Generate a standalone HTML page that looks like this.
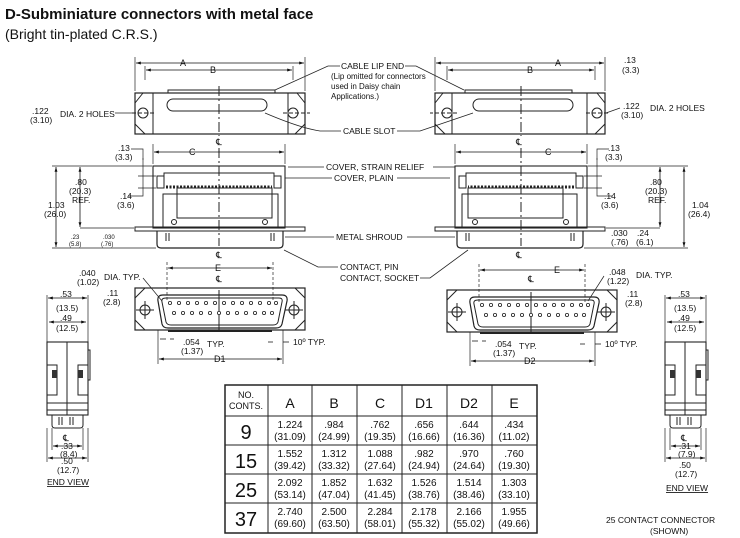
<!DOCTYPE html>
<html><head><meta charset="utf-8"><style>
body{margin:0;background:#fff;width:740px;height:538px;overflow:hidden}
svg{display:block}
text{font-family:"Liberation Sans",sans-serif;fill:#111}
.d{font-size:8.5px}
.l{font-size:9px}
</style></head><body>
<svg width="740" height="538" viewBox="0 0 740 538" xmlns="http://www.w3.org/2000/svg">
<defs>
<marker id="a" viewBox="0 0 10 10" refX="10" refY="5" markerWidth="6" markerHeight="6" orient="auto-start-reverse"><path d="M0,2L10,5L0,8z" fill="#111"/></marker>
<g id="top">
 <rect x="135" y="93" width="170" height="41" fill="none" stroke="#222" stroke-width="1.2"/>
 <line x1="153" y1="93" x2="153" y2="134" stroke="#222"/>
 <line x1="288" y1="93" x2="288" y2="134" stroke="#222"/>
 <path d="M135,103L143,93M135,124L145,134M305,103L297,93M305,124L295,134" stroke="#222"/>
 <rect x="167" y="99" width="100" height="12" rx="6" fill="none" stroke="#222"/>
 <circle cx="143" cy="113" r="5" fill="none" stroke="#222"/>
 <circle cx="293" cy="113" r="5" fill="none" stroke="#222"/>
 <line x1="132" y1="113" x2="155" y2="113" stroke="#222" stroke-dasharray="4,2"/>
 <line x1="283" y1="113" x2="310" y2="113" stroke="#222" stroke-dasharray="4,2"/>
 <rect x="168" y="90" width="107" height="3" fill="none" stroke="#222"/>
 <line x1="219" y1="86" x2="219" y2="136" stroke="#222" stroke-dasharray="10,3,2,3"/>
 <line x1="135" y1="57" x2="135" y2="91" stroke="#222" stroke-width=".7"/>
 <line x1="305" y1="57" x2="305" y2="91" stroke="#222" stroke-width=".7"/>
 <line x1="145" y1="66" x2="145" y2="80" stroke="#222" stroke-width=".7"/>
 <line x1="293" y1="66" x2="293" y2="80" stroke="#222" stroke-width=".7"/>
 <line x1="136" y1="63" x2="304" y2="63" stroke="#111" stroke-width=".8" marker-start="url(#a)" marker-end="url(#a)"/>
 <line x1="146" y1="70" x2="292" y2="70" stroke="#111" stroke-width=".8" marker-start="url(#a)" marker-end="url(#a)"/>
 <!-- side view -->
 <rect x="153" y="166" width="132" height="62" fill="none" stroke="#222" stroke-width="1.1"/>
 <rect x="157" y="176" width="7" height="12" fill="none" stroke="#222"/>
 <rect x="274" y="176" width="7" height="12" fill="none" stroke="#222"/>
 <path d="M164,182V173H274V182" fill="none" stroke="#222"/>
 <line x1="166" y1="187" x2="272" y2="187" stroke="#222" stroke-width="3" stroke-dasharray="2,1.5"/>
 <rect x="163" y="194" width="115" height="34" fill="none" stroke="#222"/>
 <rect x="177" y="188" width="95" height="30" fill="none" stroke="#222"/>
 <circle cx="174" cy="222" r="2.5" fill="none" stroke="#222"/>
 <circle cx="265" cy="222" r="2.5" fill="none" stroke="#222"/>
 <rect x="135" y="227" width="170" height="4" fill="none" stroke="#222"/>
 <path d="M157,231V244Q157,248 161,248H279Q283,248 283,244V231" fill="none" stroke="#222" stroke-width="1.2"/>
 <path d="M166,233v8M169,233v8M271,233v8M274,233v8" stroke="#222"/>
 <line x1="219" y1="148" x2="219" y2="246" stroke="#222" stroke-dasharray="10,3,2,3"/>
 <line x1="153" y1="144" x2="153" y2="164" stroke="#222" stroke-width=".7"/>
 <line x1="285" y1="144" x2="285" y2="164" stroke="#222" stroke-width=".7"/>
 <line x1="154" y1="152" x2="284" y2="152" stroke="#111" stroke-width=".8" marker-start="url(#a)" marker-end="url(#a)"/>
 <line x1="52" y1="166" x2="152" y2="166" stroke="#222" stroke-width=".7"/>
 <line x1="52" y1="248" x2="156" y2="248" stroke="#222" stroke-width=".7"/>
 <line x1="56" y1="167" x2="56" y2="247" stroke="#111" stroke-width=".8" marker-start="url(#a)" marker-end="url(#a)"/>
 <line x1="80" y1="167" x2="80" y2="227" stroke="#111" stroke-width=".8" marker-start="url(#a)" marker-end="url(#a)"/>
 <line x1="80" y1="228" x2="134" y2="228" stroke="#222" stroke-width=".7"/>
 <path d="M143,158V176M143,176V188M138,176H156M138,188H156" stroke="#222" stroke-width=".7"/>
 <path d="M131,149H143V160" fill="none" stroke="#222" stroke-width=".7"/>
 <path d="M128,196H143V188" fill="none" stroke="#222" stroke-width=".7"/>
</g>
<g id="front">
 <rect x="135" y="288" width="170" height="42" fill="none" stroke="#222" stroke-width="1.2"/>
 <path d="M135,298L145,288M135,320L145,330M305,298L295,288M305,320L295,330" stroke="#222"/>
 <path d="M163,295H282Q288,295 287,301L282,324Q281,328 276,328H168Q163,328 162,324L158,301Q157,295 163,295z" fill="none" stroke="#222" stroke-width="1.2"/>
 <path d="M166,298H279Q283,298 282,302L278,322Q277,325 273,325H171Q167,325 166,322L162,302Q161,298 166,298z" fill="none" stroke="#222"/>
 <circle cx="145" cy="310" r="5" fill="none" stroke="#222"/>
 <circle cx="294" cy="310" r="5" fill="none" stroke="#222"/>
 <path d="M136,310H154M145,301V319M285,310H303M294,301V319" stroke="#222"/>
 <line x1="168" y1="331" x2="272" y2="331" stroke="#222" stroke-width="2"/>
 <line x1="219" y1="290" x2="219" y2="330" stroke="#222"/>
 <g fill="#fff" stroke="#222" stroke-width=".8">
 <circle cx="170" cy="303" r="1.6"/><circle cx="179" cy="303" r="1.6"/><circle cx="188" cy="303" r="1.6"/><circle cx="197" cy="303" r="1.6"/><circle cx="206" cy="303" r="1.6"/><circle cx="215" cy="303" r="1.6"/><circle cx="224" cy="303" r="1.6"/><circle cx="233" cy="303" r="1.6"/><circle cx="242" cy="303" r="1.6"/><circle cx="251" cy="303" r="1.6"/><circle cx="260" cy="303" r="1.6"/><circle cx="269" cy="303" r="1.6"/><circle cx="276" cy="303" r="1.6"/>
 <circle cx="174" cy="313" r="1.6"/><circle cx="183" cy="313" r="1.6"/><circle cx="192" cy="313" r="1.6"/><circle cx="201" cy="313" r="1.6"/><circle cx="210" cy="313" r="1.6"/><circle cx="219" cy="313" r="1.6"/><circle cx="228" cy="313" r="1.6"/><circle cx="237" cy="313" r="1.6"/><circle cx="246" cy="313" r="1.6"/><circle cx="255" cy="313" r="1.6"/><circle cx="264" cy="313" r="1.6"/><circle cx="272" cy="313" r="1.6"/>
 </g>
 <line x1="167" y1="262" x2="167" y2="300" stroke="#222" stroke-width=".7" stroke-dasharray="3,2"/>
 <line x1="273" y1="262" x2="273" y2="300" stroke="#222" stroke-width=".7" stroke-dasharray="3,2"/>
 <line x1="168" y1="268" x2="272" y2="268" stroke="#111" stroke-width=".8" marker-start="url(#a)" marker-end="url(#a)"/>
 <line x1="158" y1="330" x2="158" y2="364" stroke="#222" stroke-width=".7"/>
 <line x1="283" y1="330" x2="283" y2="364" stroke="#222" stroke-width=".7"/>
 <line x1="159" y1="359" x2="282" y2="359" stroke="#111" stroke-width=".8" marker-start="url(#a)" marker-end="url(#a)"/>
 <path d="M160,339h6M174,339h-4M268,342h5M283,342h6" stroke="#111" stroke-width=".8"/>
</g>
<g id="end">
 <rect x="47" y="342" width="41" height="73" fill="none" stroke="#222" stroke-width="1.1"/>
 <line x1="67" y1="342" x2="67" y2="415" stroke="#222"/>
 <rect x="88" y="350" width="2" height="30" fill="none" stroke="#222"/>
 <rect x="47" y="365" width="10" height="30" fill="none" stroke="#222"/>
 <rect x="78" y="365" width="10" height="30" fill="none" stroke="#222"/>
 <rect x="52" y="370" width="5" height="8" fill="#333"/>
 <rect x="78" y="370" width="5" height="8" fill="#333"/>
 <path d="M47,403H88M47,410H88" stroke="#222"/>
 <path d="M52,415V425Q52,428 55,428H80Q83,428 83,425V415" fill="none" stroke="#222"/>
 <path d="M59,417v8M62,417v8M70,417v8M73,417v8" stroke="#222"/>
 <line x1="47" y1="295" x2="47" y2="342" stroke="#222" stroke-width=".7"/>
 <line x1="88" y1="295" x2="88" y2="342" stroke="#222" stroke-width=".7"/>
 <line x1="48" y1="298" x2="87" y2="298" stroke="#111" stroke-width=".8" marker-start="url(#a)" marker-end="url(#a)"/>
 <line x1="49" y1="322" x2="86" y2="322" stroke="#111" stroke-width=".8" marker-start="url(#a)" marker-end="url(#a)"/>
 <line x1="47" y1="428" x2="47" y2="462" stroke="#222" stroke-width=".7"/>
 <line x1="88" y1="428" x2="88" y2="462" stroke="#222" stroke-width=".7"/>
 <line x1="52" y1="428" x2="52" y2="450" stroke="#222" stroke-width=".7"/>
 <line x1="83" y1="428" x2="83" y2="450" stroke="#222" stroke-width=".7"/>
 <line x1="53" y1="446" x2="82" y2="446" stroke="#111" stroke-width=".8" marker-start="url(#a)" marker-end="url(#a)"/>
 <line x1="48" y1="458" x2="87" y2="458" stroke="#111" stroke-width=".8" marker-start="url(#a)" marker-end="url(#a)"/>
</g>
</defs>

<text x="5" y="19" style="font-size:15px;font-weight:bold">D-Subminiature connectors with metal face</text>
<text x="5" y="39" style="font-size:14px">(Bright tin-plated C.R.S.)</text>

<use href="#top"/>
<g transform="translate(740,0) scale(-1,1)"><use href="#top"/></g>
<use href="#front"/>
<g transform="translate(312,2)"><use href="#front"/></g>
<use href="#end"/>
<g transform="translate(618,0)"><use href="#end"/></g>

<!-- top view labels -->
<text class="l" x="180" y="66">A</text><text class="l" x="210" y="73">B</text>
<text class="l" x="555" y="66">A</text><text class="l" x="527" y="73">B</text>
<text class="d" x="32" y="114">.122</text><text class="d" x="30" y="123">(3.10)</text>
<text class="d" x="60" y="117">DIA. 2 HOLES</text>
<line x1="115" y1="113" x2="134" y2="113" stroke="#222" stroke-width=".7"/>
<text class="d" x="623" y="109">.122</text><text class="d" x="621" y="118">(3.10)</text>
<text class="d" x="650" y="111">DIA. 2 HOLES</text>
<line x1="606" y1="113" x2="620" y2="108" stroke="#222" stroke-width=".7"/>
<text class="d" x="624" y="63">.13</text><text class="d" x="622" y="73">(3.3)</text>
<text class="d" x="341" y="69">CABLE LIP END</text>
<text class="d" x="331" y="79" style="font-size:8px">(Lip omitted for connectors</text>
<text class="d" x="331" y="89" style="font-size:8px">used in Daisy chain</text>
<text class="d" x="331" y="99" style="font-size:8px">Applications.)</text>
<path d="M340,66H328L275,90M405,66H416L464,90" fill="none" stroke="#222" stroke-width=".8"/>
<text class="d" x="343" y="134">CABLE SLOT</text>
<path d="M341,131H320Q300,128 265,113M397,131H420L473,113" fill="none" stroke="#222" stroke-width=".8"/>

<!-- side view labels -->
<text class="l" x="189" y="155">C</text><text class="l" x="545" y="155">C</text>
<text class="l" x="216" y="145">℄</text><text class="l" x="516" y="145">℄</text>
<text class="l" x="216" y="258">℄</text><text class="l" x="516" y="258">℄</text>
<text class="l" x="216" y="282">℄</text><text class="l" x="528" y="282">℄</text>
<text class="d" x="118" y="151">.13</text><text class="d" x="115" y="160">(3.3)</text>
<text class="d" x="120" y="199">.14</text><text class="d" x="117" y="208">(3.6)</text>
<text class="d" x="75" y="185">.80</text><text class="d" x="69" y="194">(20.3)</text><text class="d" x="72" y="203">REF.</text>
<text class="d" x="48" y="208">1.03</text><text class="d" x="44" y="217">(26.0)</text>
<text class="d" x="71" y="239" style="font-size:6px">.23</text><text class="d" x="69" y="246" style="font-size:6px">(5.8)</text>
<text class="d" x="103" y="239" style="font-size:6px">.030</text><text class="d" x="101" y="246" style="font-size:6px">(.76)</text>
<text class="d" x="608" y="151">.13</text><text class="d" x="605" y="160">(3.3)</text>
<text class="d" x="604" y="199">.14</text><text class="d" x="601" y="208">(3.6)</text>
<text class="d" x="650" y="185">.80</text><text class="d" x="645" y="194">(20.3)</text><text class="d" x="648" y="203">REF.</text>
<text class="d" x="692" y="208">1.04</text><text class="d" x="688" y="217">(26.4)</text>
<text class="d" x="611" y="236">.030</text><text class="d" x="611" y="245">(.76)</text>
<text class="d" x="637" y="236">.24</text><text class="d" x="636" y="245">(6.1)</text>
<text class="d" x="326" y="170">COVER, STRAIN RELIEF</text>
<path d="M324,167H288M433,167H455" stroke="#222" stroke-width=".8"/>
<text class="d" x="334" y="181">COVER, PLAIN</text>
<path d="M332,178H285M397,178H450" stroke="#222" stroke-width=".8"/>
<text class="d" x="336" y="240">METAL SHROUD</text>
<path d="M334,237H285M407,237H455" stroke="#222" stroke-width=".8"/>
<text class="d" x="340" y="270">CONTACT, PIN</text>
<text class="d" x="340" y="281">CONTACT, SOCKET</text>
<path d="M338,267H318L284,250M420,278H430L468,250" fill="none" stroke="#222" stroke-width=".8"/>

<!-- front view labels -->
<text class="l" x="215" y="271">E</text><text class="l" x="554" y="273">E</text>
<text class="d" x="79" y="276">.040</text><text class="d" x="77" y="285">(1.02)</text>
<text class="d" x="104" y="280">DIA. TYP.</text>
<path d="M143,278L162,301" stroke="#222" stroke-width=".7"/>
<text class="d" x="107" y="296">.11</text><text class="d" x="103" y="305">(2.8)</text>
<text class="d" x="183" y="345">.054</text><text class="d" x="181" y="354">(1.37)</text><text class="d" x="207" y="347">TYP.</text>
<text class="d" x="293" y="345">10º TYP.</text>
<text class="l" x="214" y="362">D1</text>
<text class="d" x="609" y="275">.048</text><text class="d" x="607" y="284">(1.22)</text>
<text class="d" x="636" y="278">DIA. TYP.</text>
<path d="M604,276L588,301" stroke="#222" stroke-width=".7"/>
<text class="d" x="627" y="297">.11</text><text class="d" x="625" y="306">(2.8)</text>
<text class="d" x="495" y="347">.054</text><text class="d" x="493" y="356">(1.37)</text><text class="d" x="519" y="349">TYP.</text>
<text class="d" x="605" y="347">10º TYP.</text>
<text class="l" x="524" y="364">D2</text>

<!-- end view labels -->
<text class="d" x="60" y="297">.53</text><text class="d" x="56" y="311">(13.5)</text>
<text class="d" x="60" y="321">.49</text><text class="d" x="56" y="331">(12.5)</text>
<text class="l" x="63" y="441">℄</text>
<text class="d" x="61" y="449">.33</text><text class="d" x="60" y="457">(8.4)</text>
<text class="d" x="61" y="464">.50</text><text class="d" x="57" y="473">(12.7)</text>
<text class="d" x="47" y="485" text-decoration="underline">END VIEW</text>
<text class="d" x="678" y="297">.53</text><text class="d" x="674" y="311">(13.5)</text>
<text class="d" x="678" y="321">.49</text><text class="d" x="674" y="331">(12.5)</text>
<text class="l" x="681" y="441">℄</text>
<text class="d" x="679" y="449">.31</text><text class="d" x="678" y="457">(7.9)</text>
<text class="d" x="679" y="468">.50</text><text class="d" x="675" y="477">(12.7)</text>
<text class="d" x="666" y="491" text-decoration="underline">END VIEW</text>
<text class="d" x="606" y="523">25 CONTACT CONNECTOR</text>
<text class="d" x="650" y="534">(SHOWN)</text>

<!-- table -->
<g stroke="#222" fill="none">
<rect x="225" y="385" width="312" height="148" stroke-width="1.5"/>
<path d="M268,385V533M312,385V533M357,385V533M402,385V533M447,385V533M492,385V533M225,416H537M225,445H537M225,474H537M225,503H537"/>
</g>
<g text-anchor="middle">
<text x="246" y="398" style="font-size:9px">NO.</text><text x="246" y="409" style="font-size:9px">CONTS.</text>
<text x="290" y="408" style="font-size:14px">A</text><text x="334" y="408" style="font-size:14px">B</text><text x="380" y="408" style="font-size:14px">C</text><text x="424" y="408" style="font-size:14px">D1</text><text x="469" y="408" style="font-size:14px">D2</text><text x="514" y="408" style="font-size:14px">E</text>
<text x="246" y="439" style="font-size:20px">9</text><text x="246" y="468" style="font-size:20px">15</text><text x="246" y="497" style="font-size:20px">25</text><text x="246" y="526" style="font-size:20px">37</text>
<g style="font-size:10px">
<text x="290" y="428">1.224</text><text x="290" y="440">(31.09)</text><text x="334" y="428">.984</text><text x="334" y="440">(24.99)</text><text x="380" y="428">.762</text><text x="380" y="440">(19.35)</text><text x="424" y="428">.656</text><text x="424" y="440">(16.66)</text><text x="469" y="428">.644</text><text x="469" y="440">(16.36)</text><text x="514" y="428">.434</text><text x="514" y="440">(11.02)</text>
<text x="290" y="457">1.552</text><text x="290" y="469">(39.42)</text><text x="334" y="457">1.312</text><text x="334" y="469">(33.32)</text><text x="380" y="457">1.088</text><text x="380" y="469">(27.64)</text><text x="424" y="457">.982</text><text x="424" y="469">(24.94)</text><text x="469" y="457">.970</text><text x="469" y="469">(24.64)</text><text x="514" y="457">.760</text><text x="514" y="469">(19.30)</text>
<text x="290" y="486">2.092</text><text x="290" y="498">(53.14)</text><text x="334" y="486">1.852</text><text x="334" y="498">(47.04)</text><text x="380" y="486">1.632</text><text x="380" y="498">(41.45)</text><text x="424" y="486">1.526</text><text x="424" y="498">(38.76)</text><text x="469" y="486">1.514</text><text x="469" y="498">(38.46)</text><text x="514" y="486">1.303</text><text x="514" y="498">(33.10)</text>
<text x="290" y="515">2.740</text><text x="290" y="527">(69.60)</text><text x="334" y="515">2.500</text><text x="334" y="527">(63.50)</text><text x="380" y="515">2.284</text><text x="380" y="527">(58.01)</text><text x="424" y="515">2.178</text><text x="424" y="527">(55.32)</text><text x="469" y="515">2.166</text><text x="469" y="527">(55.02)</text><text x="514" y="515">1.955</text><text x="514" y="527">(49.66)</text>
</g></g>
</svg>
</body></html>
